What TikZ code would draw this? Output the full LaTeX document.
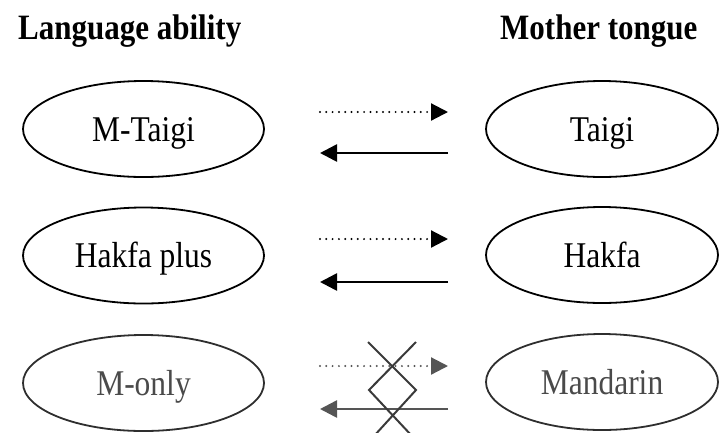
\documentclass[tikz,border=0pt]{standalone}
\usepackage{fontspec}
\setmainfont{Liberation Serif}
\usetikzlibrary{arrows.meta,shapes.geometric}

\definecolor{fadeline}{HTML}{2E2E2E}
\definecolor{fadetext}{HTML}{4A4A4A}
\definecolor{fadearrow}{HTML}{555555}
\definecolor{crossline}{HTML}{3A3A3A}

% slightly tall lettering
\newcommand{\tallword}[1]{\scalebox{1}[1.15]{#1}}

\tikzset{
  title/.style={font=\fontsize{31}{31}\selectfont\bfseries, anchor=base west, inner sep=0pt},
  oval/.style={ellipse, draw, line width=1.8pt, inner sep=0pt,
    minimum height=96pt, text height=24pt, text depth=0pt,
    font=\fontsize{31.5}{31.5}\selectfont},
  leftoval/.style={oval, minimum width=241pt},
  rightoval/.style={oval, minimum width=232pt},
  tip/.style={-{Triangle[length=17pt,width=17pt]}},
  maybe/.style={tip, line width=2.2pt, line cap=round, dash pattern=on 0pt off 6.3pt},
  sure/.style={tip, line width=2.6pt},
  faded/.style={draw=fadeline, text=fadetext},
  cross/.style={draw=crossline, line width=2pt}
}

\begin{document}
\begin{tikzpicture}[x=1pt, y=-1pt]
  \useasboundingbox (0,0) rectangle (719,432);

  % column headings
  \node[title] (hl) at (18,39) {\tallword{Language ability}};
  \node[title] (hr) at (500,39) {\tallword{Mother tongue}};

  % language ability (left) and mother tongue (right)
  \node[leftoval] (mt) at (143.5,129) {\tallword{M-Taigi}};
  \node[leftoval] (hp) at (143.5,255.5) {\tallword{Hakfa plus}};
  \node[leftoval, faded] (mo) at (143.5,383) {\tallword{M-only}};
  \node[rightoval] (ta) at (602,129) {\tallword{Taigi}};
  \node[rightoval] (ha) at (602,255) {\tallword{Hakfa}};
  \node[rightoval, faded] (ma) at (602,382) {\tallword{Mandarin}};

  % arrow end points between the two columns
  \foreach \r/\ya/\yb in {1/112/153, 2/239/282, 3/366/409} {
    \coordinate (a\r) at (320,\ya);
    \coordinate (b\r) at (448,\ya);
    \coordinate (c\r) at (448,\yb);
    \coordinate (d\r) at (320,\yb);
  }

  \draw[maybe] (a1) -- (b1);
  \draw[sure] (c1) -- (d1);
  \draw[maybe] (a2) -- (b2);
  \draw[sure] (c2) -- (d2);
  \draw[maybe, fadearrow] (a3) -- (b3);
  \draw[sure, fadearrow] (c3) -- (d3);

  % crossed-out mark over the Mandarin arrows
  \coordinate (x1) at (368,342);
  \coordinate (x2) at (416,342);
  \coordinate (x3) at (416,390);
  \coordinate (x4) at (369,390);
  \coordinate (x5) at (374,436);
  \coordinate (x6) at (412,436);
  \draw[cross] (x1) -- (x3) -- (x5);
  \draw[cross] (x2) -- (x4) -- (x6);
\end{tikzpicture}
\end{document}
